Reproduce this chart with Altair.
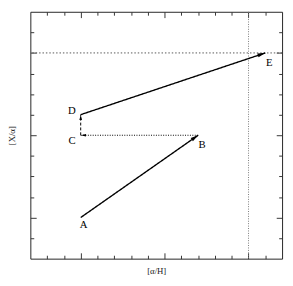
import altair as alt
import pandas as pd
import math

# ---- data ----
labels = ["A", "B", "C", "D", "E"]
xs = [0.0, 0.7, 0.0, 0.0, 1.1]
ys = [0.0, 0.4, 0.4, 0.5, 0.8]

# segments: (from, to, style)
seg_from = ["A", "B", "C", "D"]
seg_to = ["B", "C", "D", "E"]
seg_style = ["solid", "dotted", "dashed", "solid"]

ref_x = [1.0]
ref_y = [0.8]

x_ticks = [-0.2, -0.1, 0.0, 0.1, 0.2, 0.3, 0.4, 0.5, 0.6, 0.7, 0.8, 0.9, 1.0, 1.1]
y_ticks = [-0.1, 0.0, 0.1, 0.2, 0.3, 0.4, 0.5, 0.6, 0.7, 0.8, 0.9]
x_domain = [-0.3, 1.2]
y_domain = [-0.2, 1.0]

# ---- layout ----
W, H = 259, 254
SERIF = "Liberation Serif"

pos = {l: (x, y) for l, x, y in zip(labels, xs, ys)}

rows = []
for i, (a, b, s) in enumerate(zip(seg_from, seg_to, seg_style)):
    rows.append({"seg": i, "ord": 0, "x": pos[a][0], "y": pos[a][1], "style": s})
    rows.append({"seg": i, "ord": 1, "x": pos[b][0], "y": pos[b][1], "style": s})
seg_df = pd.DataFrame(rows)

# arrowheads at segment ends; angle follows segment direction in pixel space
px_x = W / (x_domain[1] - x_domain[0])
px_y = H / (y_domain[1] - y_domain[0])
head_rows = []
for a, b, s in zip(seg_from, seg_to, seg_style):
    dx = (pos[b][0] - pos[a][0]) * px_x
    dy = (pos[b][1] - pos[a][1]) * px_y
    ang = (90 - math.degrees(math.atan2(dy, dx))) % 360
    head_rows.append({"x": pos[b][0], "y": pos[b][1], "angle": ang,
                      "size": 64 if s == "solid" else 30})
head_df = pd.DataFrame(head_rows)

xscale = alt.Scale(domain=x_domain, nice=False, zero=False)
yscale = alt.Scale(domain=y_domain, nice=False, zero=False)

x_major = "abs(datum.value*2 - round(datum.value*2)) < 0.001"
y_major = "abs(datum.value/0.4 - round(datum.value/0.4)) < 0.001"
x_tick_size = {"condition": {"test": x_major, "value": 6}, "value": 3.5}
y_tick_size = {"condition": {"test": y_major, "value": 6}, "value": 3.5}

common = dict(labels=False, domain=False, grid=False, tickColor="#333", tickWidth=1)

# axis set 1: bottom frame (top-oriented, moved down) and left frame (right-oriented, moved left)
ax_x1 = alt.Axis(orient="top", offset=-H, values=x_ticks, tickSize=x_tick_size,
                 title="[α/H]", titleY=12, titleBaseline="middle", titleFont=SERIF,
                 titleFontSize=9, titleFontWeight="normal", titleColor="#222", **common)
ax_y1 = alt.Axis(orient="right", offset=-W, values=y_ticks, tickSize=y_tick_size,
                 title="[X/α]", titleAngle=270, titleX=-19, titleBaseline="middle",
                 titleFont=SERIF, titleFontSize=9, titleFontWeight="normal",
                 titleColor="#222", **common)
# axis set 2: top frame and right frame
ax_x2 = alt.Axis(orient="bottom", offset=-H, values=x_ticks, tickSize=x_tick_size,
                 title=None, **common)
ax_y2 = alt.Axis(orient="left", offset=-W, values=y_ticks, tickSize=y_tick_size,
                 title=None, **common)

hline = alt.Chart(pd.DataFrame({"y": ref_y})).mark_rule(
    color="#555", strokeDash=[1.5, 2], strokeWidth=1
).encode(y=alt.Y("y:Q", scale=yscale, axis=None))

vline = alt.Chart(pd.DataFrame({"x": ref_x})).mark_rule(
    color="#777", strokeDash=[1, 1.5], strokeWidth=1
).encode(x=alt.X("x:Q", scale=xscale, axis=None))

lines = alt.Chart(seg_df).mark_line(color="black").encode(
    x=alt.X("x:Q", scale=xscale, axis=ax_x1),
    y=alt.Y("y:Q", scale=yscale, axis=ax_y1),
    detail="seg:N",
    order="ord:Q",
    strokeDash=alt.StrokeDash("style:N", scale=alt.Scale(
        domain=["solid", "dotted", "dashed"], range=[[1, 0], [1, 1.5], [3, 2]]), legend=None),
    strokeWidth=alt.StrokeWidth("style:N", scale=alt.Scale(
        domain=["solid", "dotted", "dashed"], range=[1.4, 1.0, 1.1]), legend=None),
)

heads = alt.Chart(head_df).mark_point(
    shape="M0,0L-0.5,2L0.5,2Z", filled=True, color="black", fill="black", opacity=1
).encode(
    x=alt.X("x:Q", scale=xscale, axis=None),
    y=alt.Y("y:Q", scale=yscale, axis=None),
    angle=alt.Angle("angle:Q", scale=None),
    size=alt.Size("size:Q", scale=None),
)

label_dx = {"A": 3, "B": 4, "C": -9, "D": -9, "E": 4}
label_dy = {"A": 8, "B": 10, "C": 6, "D": -4, "E": 10}

text_layers = []
for i, l in enumerate(labels):
    df = pd.DataFrame({"x": [xs[i]], "y": [ys[i]], "t": [l]})
    enc = dict(text="t:N")
    if i == 0:
        enc["x"] = alt.X("x:Q", scale=xscale, axis=ax_x2)
        enc["y"] = alt.Y("y:Q", scale=yscale, axis=ax_y2)
    else:
        enc["x"] = alt.X("x:Q", scale=xscale, axis=None)
        enc["y"] = alt.Y("y:Q", scale=yscale, axis=None)
    text_layers.append(
        alt.Chart(df).mark_text(font=SERIF, fontSize=11, color="black", fill="black",
                                dx=label_dx[l], dy=label_dy[l], baseline="middle",
                                align="center").encode(**enc)
    )

chart = alt.layer(hline, vline, lines, heads, *text_layers).resolve_axis(
    x="independent", y="independent"
).properties(
    width=W, height=H,
    autosize=alt.AutoSizeParams(type="none"),
    padding={"left": 23, "top": 0, "right": 3, "bottom": 16},
).configure_view(stroke="#222", strokeWidth=1)

chart.save("out.html", embed_options={"renderer": "svg", "actions": False})
